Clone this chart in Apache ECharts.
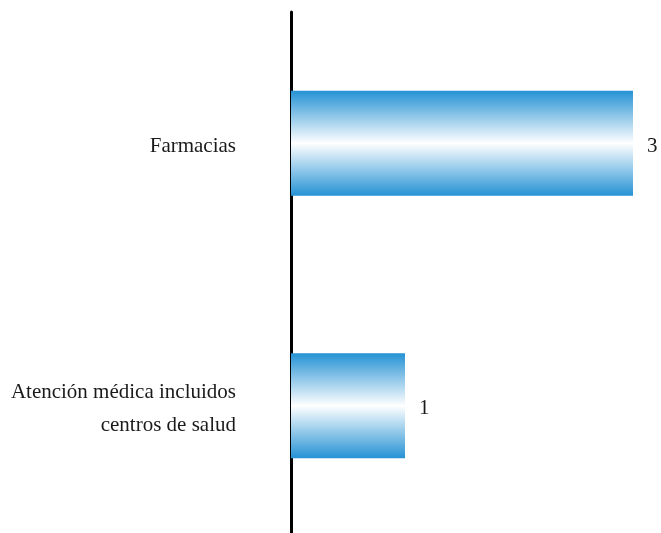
<!DOCTYPE html>
<html><head><meta charset="utf-8">
<script src="https://cdn.jsdelivr.net/npm/echarts@6/dist/echarts.min.js"></script>
<style>html,body{margin:0;padding:0;background:#fff}#c{width:661px;height:533px}</style>
</head><body><div id="c"></div>
<script>
const categories = ['Atención médica incluidos\ncentros de salud', 'Farmacias'];
const values = [1, 3];
const xMax = 3;

const chart = echarts.init(document.getElementById('c'), null, {renderer: 'canvas'});
const font = '"Liberation Serif", "Times New Roman", serif';
chart.setOption({
  animation: false,
  backgroundColor: '#ffffff',
  grid: {left: 291, top: 12, width: 342, height: 525, containLabel: false, outerBoundsMode: 'none'},
  xAxis: {type: 'value', min: 0, max: xMax, show: false},
  yAxis: {
    type: 'category', data: categories,
    axisLine: {show: true, lineStyle: {color: '#000', width: 3}},
    axisTick: {show: false},
    axisLabel: {
      margin: 55, align: 'right',
      formatter: v => v.split('\n').map(s => '{a|' + s + '}').join('\n') + '\n{b| }',
      rich: {
        a: {color: '#1a1a1a', fontFamily: font, fontSize: 21, lineHeight: 33, align: 'right'},
        b: {fontSize: 1, lineHeight: 0, height: 0}
      },
      padding: [6, 0, 0, 0]
    },
    splitLine: {show: false}
  },
  series: [{
    type: 'bar', data: values, barWidth: '40%', z: 1,
    itemStyle: {color: new echarts.graphic.LinearGradient(0, 0, 0, 1, [
      {offset: 0, color: '#2592d4'},
      {offset: 0.5, color: '#ffffff'},
      {offset: 1, color: '#2592d4'}
    ])},
    label: {show: true, position: 'right', distance: 14, offset: [0, 3], color: '#1a1a1a', fontFamily: font, fontSize: 21}
  }]
});
</script></body></html>
